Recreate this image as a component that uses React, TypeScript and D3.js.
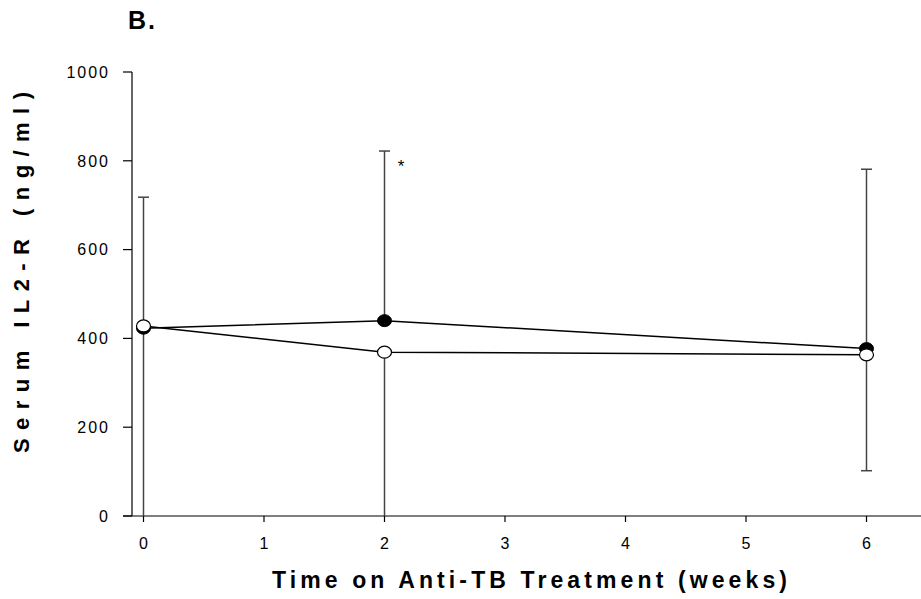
import React from "react";
import * as d3 from "d3";

const weeks = [0, 2, 6];
const filledMeans = [423, 440, 377];
const openMeans = [428, 369, 363];
const filledUpper = [718, 822, 781];
const openLower = [0, 0, 102];
const xTicks = [0, 1, 2, 3, 4, 5, 6];
const yTicks = [0, 200, 400, 600, 800, 1000];

export default function App() {
  const W = 921, H = 599;
  const x = d3.scaleLinear().domain([0, 6]).range([143.5, 866.5]);
  const y = d3.scaleLinear().domain([0, 1000]).range([516, 72]);
  const x0 = 132;
  const line = d3.line<number>().x((_, i) => x(weeks[i])).y((d) => y(d));
  const font = "Liberation Sans, Arial, sans-serif";
  const cap = 5.5;
  return (
    <svg width={W} height={H} style={{ position: "absolute", left: 0, top: 0, background: "#fff" }} fontFamily={font}>
      <text x={128} y={29} fontSize={25} fontWeight="bold" letterSpacing={2}>B.</text>
      {/* axes */}
      <line x1={x0} x2={x0} y1={y(1000)} y2={y(0)} stroke="#000" strokeWidth={1.2} />
      <line x1={123} x2={W} y1={y(0)} y2={y(0)} stroke="#000" strokeWidth={1.2} />
      {yTicks.map((t) => (
        <g key={"y" + t}>
          <line x1={123} x2={x0} y1={y(t)} y2={y(t)} stroke="#000" strokeWidth={1.2} />
          <text x={110} y={y(t)} dy="0.36em" textAnchor="end" fontSize={16} letterSpacing={2}>{t}</text>
        </g>
      ))}
      {xTicks.map((t) => (
        <g key={"x" + t}>
          <line x1={x(t)} x2={x(t)} y1={y(0)} y2={y(0) + 6} stroke="#000" strokeWidth={1.2} />
          <text x={x(t)} y={549} textAnchor="middle" fontSize={16}>{t}</text>
        </g>
      ))}
      {/* error bars */}
      {weeks.map((w, i) => (
        <g key={"eu" + i} stroke="#444" strokeWidth={1.5}>
          <line x1={x(w)} x2={x(w)} y1={y(filledMeans[i])} y2={y(filledUpper[i])} />
          <line x1={x(w) - cap} x2={x(w) + cap} y1={y(filledUpper[i])} y2={y(filledUpper[i])} />
          <line x1={x(w)} x2={x(w)} y1={y(openMeans[i])} y2={y(openLower[i])} />
          {openLower[i] > 0 && (
            <line x1={x(w) - cap} x2={x(w) + cap} y1={y(openLower[i])} y2={y(openLower[i])} />
          )}
        </g>
      ))}
      <path d={line(filledMeans) || ""} fill="none" stroke="#000" strokeWidth={1.5} />
      <path d={line(openMeans) || ""} fill="none" stroke="#000" strokeWidth={1.5} />
      {weeks.map((w, i) => (
        <ellipse key={"f" + i} cx={x(w)} cy={y(filledMeans[i])} rx={7} ry={6} fill="#000" stroke="#000" strokeWidth={1} />
      ))}
      {weeks.map((w, i) => (
        <ellipse key={"o" + i} cx={x(w)} cy={y(openMeans[i])} rx={7} ry={6} fill="#fff" stroke="#000" strokeWidth={1.2} />
      ))}
      <text x={401} y={172} textAnchor="middle" fontSize={17}>*</text>
      <text
        transform={`translate(29,272.5) rotate(-90)`}
        textAnchor="middle"
        fontSize={22}
        fontWeight="bold"
        textLength={361}
        lengthAdjust="spacing"
      >
        Serum IL2-R (ng/ml)
      </text>
      <text x={529.5} y={588} textAnchor="middle" fontSize={23} fontWeight="bold" textLength={515} lengthAdjust="spacing">
        Time on Anti-TB Treatment (weeks)
      </text>
    </svg>
  );
}
